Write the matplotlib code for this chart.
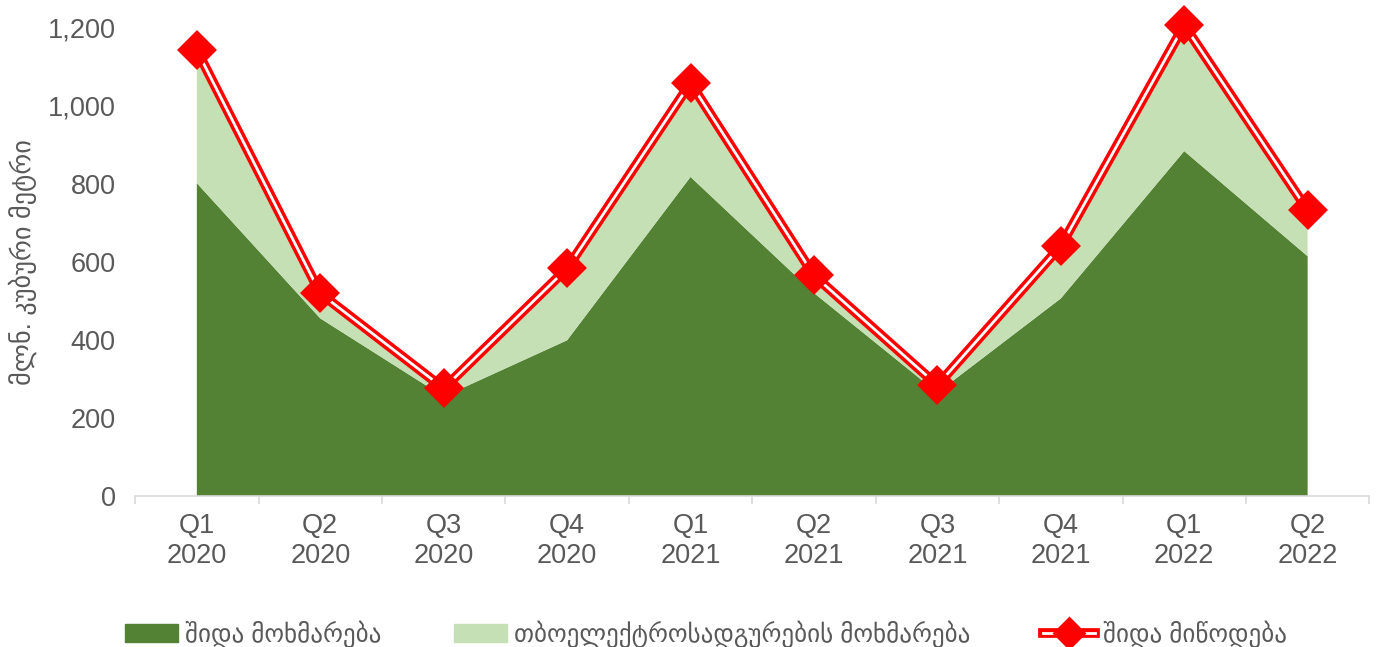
import matplotlib.pyplot as plt
from matplotlib.lines import Line2D
from matplotlib.patches import Patch
from matplotlib.ticker import FuncFormatter

# --- Data ---
quarters = ["Q1\n2020", "Q2\n2020", "Q3\n2020", "Q4\n2020", "Q1\n2021",
            "Q2\n2021", "Q3\n2021", "Q4\n2021", "Q1\n2022", "Q2\n2022"]
domestic_use = [801, 455, 255, 399, 817, 520, 265, 506, 883, 614]
tpp_use = [335, 59, 17, 180, 235, 40, 15, 130, 317, 113]
domestic_supply = [1141, 519, 276, 583, 1057, 565, 284, 640, 1205, 732]

dark_green = "#548235"
light_green = "#c5e0b4"
red = "#ff0000"
gray = "#595959"
fonts = ["Liberation Sans", "DejaVu Sans"]

x = list(range(len(quarters)))

fig, ax = plt.subplots(figsize=(13.79, 6.47), dpi=100)
fig.subplots_adjust(left=0.098, right=0.993, top=0.958, bottom=0.233)

ax.stackplot(x, domestic_use, tpp_use, colors=[dark_green, light_green], linewidth=0)

# double red line (red outer, white core)
ax.plot(x, domestic_supply, color=red, lw=7, solid_joinstyle="round", zorder=3, clip_on=False)
ax.plot(x, domestic_supply, color="white", lw=2, zorder=4, clip_on=False)
ax.plot(x, domestic_supply, ls="none", marker="D", ms=17, color=red,
        mec=red, mew=3, mfc=red, zorder=5, clip_on=False)

ax.set_xlim(-0.5, len(quarters) - 0.5)
ax.set_ylim(0, 1200)
ax.set_yticks(range(0, 1201, 200))
ax.yaxis.set_major_formatter(FuncFormatter(lambda v, p: f"{int(v):,}"))
ax.set_xticks(x)
ax.set_xticklabels(quarters)
ax.set_xticks([i - 0.5 for i in range(len(quarters) + 1)], minor=True)

for s in ["top", "right", "left"]:
    ax.spines[s].set_visible(False)
ax.spines["bottom"].set_color("#d9d9d9")
ax.spines["bottom"].set_linewidth(1.2)
ax.tick_params(axis="x", which="major", length=0, pad=12)
ax.tick_params(axis="x", which="minor", length=6, color="#d9d9d9", width=1.2)
ax.tick_params(axis="y", length=0, pad=14)
for lab in ax.get_xticklabels() + ax.get_yticklabels():
    lab.set_fontsize(19.5)
    lab.set_color(gray)
    lab.set_family(fonts)

ax.set_ylabel("მლნ. კუბური მეტრი", fontsize=19, color=gray, family=fonts, labelpad=8)

supply_handle = (
    Line2D([0], [0], color=red, lw=7),
    Line2D([0], [0], color="white", lw=2),
    Line2D([0], [0], ls="none", marker="D", ms=15, mfc=red, mec=red, mew=2),
)
handles = [
    Patch(color=dark_green),
    Patch(color=light_green),
    supply_handle,
]
labels = ["შიდა მოხმარება", "თბოელექტროსადგურების მოხმარება", "შიდა მიწოდება"]
leg = fig.legend(handles, labels, loc="lower center", ncol=3, frameon=False,
                 bbox_to_anchor=(0.512, -0.036), columnspacing=2.9, handlelength=2.1,
                 handletextpad=0.3, prop={"family": fonts, "size": 18})
for t in leg.get_texts():
    t.set_color(gray)

fig.savefig("out.png", dpi=100)
